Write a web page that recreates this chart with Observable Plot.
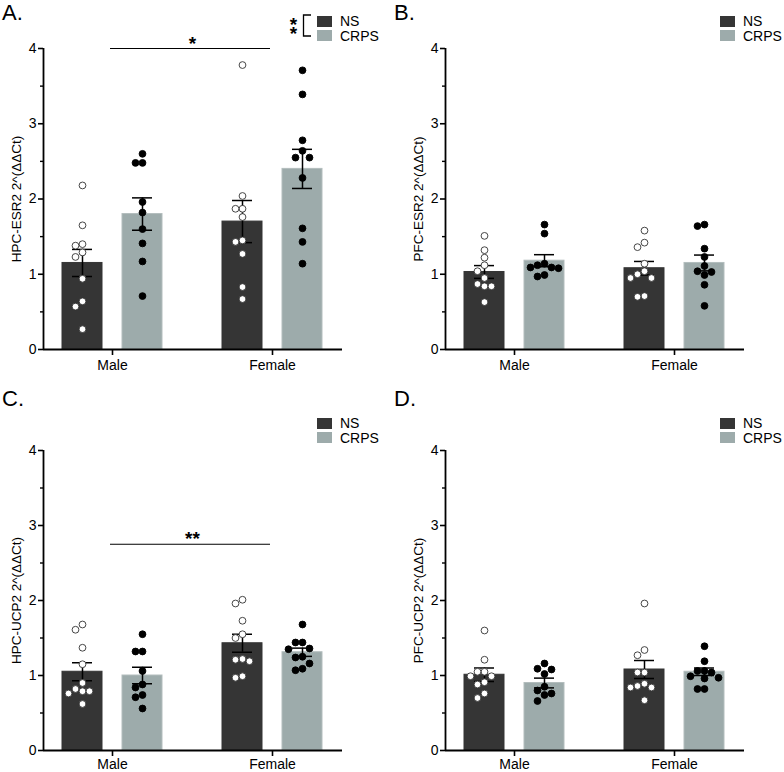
<!DOCTYPE html>
<html><head><meta charset="utf-8">
<script src="https://cdn.jsdelivr.net/npm/d3@7"></script>
<script src="https://cdn.jsdelivr.net/npm/@observablehq/plot@0.6"></script>
<style>
body{margin:0;background:#fff;font-family:"Liberation Sans",Arial,sans-serif;}
#wrap{position:relative;width:784px;height:772px;overflow:hidden;background:#fff}
.panel{position:absolute;width:392px;height:386px}
.panel svg{position:absolute;left:0;top:0}
.plabel{position:absolute;left:2px;top:2px;font-size:22px;line-height:22px;color:#000}
.legend{position:absolute;font-size:14px;line-height:14px;color:#000}
.legend .row{display:flex;align-items:center;height:14.5px;margin-bottom:0}
.legend .sw{width:15px;height:11px;margin-right:8px}
.legstars{position:absolute;overflow:visible}
</style></head><body><div id="wrap"></div><script>
// ---------- data ----------
const sexes = ["Male", "Female"];
const conditions = ["NS", "CRPS"];
const yTicks = [0, 1, 2, 3, 4];
const yMinorTicks = [0.5, 1.5, 2.5, 3.5];
const panelLetters = ["A.", "B.", "C.", "D."];
const yLabels = ["HPC-ESR2 2^(ΔΔCt)", "PFC-ESR2 2^(ΔΔCt)", "HPC-UCP2 2^(ΔΔCt)", "PFC-UCP2 2^(ΔΔCt)"];

// A: HPC-ESR2
const hpcEsr2MaleNS     = [2.18, 1.65, 1.40, 1.38, 1.29, 1.23, 0.94, 0.64, 0.57, 0.27];
const hpcEsr2MaleCRPS   = [2.60, 2.48, 2.48, 1.96, 1.82, 1.60, 1.41, 1.17, 0.71];
const hpcEsr2FemaleNS   = [3.78, 2.04, 1.87, 1.87, 1.76, 1.45, 1.43, 1.27, 0.83, 0.67];
const hpcEsr2FemaleCRPS = [3.71, 3.39, 2.78, 2.64, 2.55, 2.55, 2.28, 1.61, 1.43, 1.14];
const hpcEsr2Means = [1.15, 1.80, 1.70, 2.40];   // Male NS, Male CRPS, Female NS, Female CRPS
const hpcEsr2Sems  = [0.18, 0.215, 0.28, 0.26];

// B: PFC-ESR2
const pfcEsr2MaleNS     = [1.51, 1.32, 1.22, 1.12, 1.04, 0.95, 0.87, 0.84, 0.84, 0.63];
const pfcEsr2MaleCRPS   = [1.66, 1.54, 1.14, 1.12, 1.09, 1.09, 1.08, 0.99, 0.97];
const pfcEsr2FemaleNS   = [1.58, 1.42, 1.36, 1.14, 1.04, 1.00, 0.95, 0.95, 0.71, 0.70];
const pfcEsr2FemaleCRPS = [1.66, 1.64, 1.34, 1.23, 1.11, 1.04, 1.03, 0.99, 0.86, 0.58];
const pfcEsr2Means = [1.03, 1.18, 1.08, 1.15];
const pfcEsr2Sems  = [0.085, 0.08, 0.09, 0.105];

// C: HPC-UCP2
const hpcUcp2MaleNS     = [1.68, 1.61, 1.37, 1.15, 0.90, 0.82, 0.79, 0.79, 0.76, 0.62];
const hpcUcp2MaleCRPS   = [1.55, 1.32, 1.32, 1.06, 0.88, 0.84, 0.74, 0.71, 0.56];
const hpcUcp2FemaleNS   = [2.01, 1.96, 1.73, 1.55, 1.50, 1.22, 1.21, 1.19, 0.99, 0.97];
const hpcUcp2FemaleCRPS = [1.68, 1.44, 1.44, 1.36, 1.35, 1.25, 1.24, 1.16, 1.09, 1.07];
const hpcUcp2Means = [1.05, 1.00, 1.43, 1.31];
const hpcUcp2Sems  = [0.12, 0.11, 0.12, 0.055];

// D: PFC-UCP2
const pfcUcp2MaleNS     = [1.60, 1.21, 1.05, 1.05, 0.99, 0.99, 0.91, 0.88, 0.76, 0.70];
const pfcUcp2MaleCRPS   = [1.16, 1.09, 1.08, 1.02, 0.85, 0.80, 0.76, 0.74, 0.66];
const pfcUcp2FemaleNS   = [1.96, 1.34, 1.27, 1.04, 1.04, 0.89, 0.86, 0.84, 0.84, 0.67];
const pfcUcp2FemaleCRPS = [1.39, 1.19, 1.06, 1.06, 1.04, 0.99, 0.97, 0.96, 0.82, 0.82];
const pfcUcp2Means = [1.01, 0.90, 1.08, 1.05];
const pfcUcp2Sems  = [0.09, 0.065, 0.12, 0.05];

// significance (Male vs Female) per panel: [y value, label] or null
const sexSig = [[4.0, "*"], null, [2.75, "**"], null];
const legendSig = ["**", null, null, null];

// ---------- styling / layout ----------
const barColors = {NS: "#353535", CRPS: "#9dabab"};
const groupCenter = {Male: 1, Female: 3};
const condOffset = {NS: -0.375, CRPS: 0.375};
const barHalf = 0.25, capHalf = 0.125, dotStep = 0.0875;
const xDomain = [0.1375, 3.875];
const FONT = '"Liberation Sans", Arial, sans-serif';

const panels = [
  {pts: [hpcEsr2MaleNS, hpcEsr2MaleCRPS, hpcEsr2FemaleNS, hpcEsr2FemaleCRPS], means: hpcEsr2Means, sems: hpcEsr2Sems},
  {pts: [pfcEsr2MaleNS, pfcEsr2MaleCRPS, pfcEsr2FemaleNS, pfcEsr2FemaleCRPS], means: pfcEsr2Means, sems: pfcEsr2Sems},
  {pts: [hpcUcp2MaleNS, hpcUcp2MaleCRPS, hpcUcp2FemaleNS, hpcUcp2FemaleCRPS], means: hpcUcp2Means, sems: hpcUcp2Sems},
  {pts: [pfcUcp2MaleNS, pfcUcp2MaleCRPS, pfcUcp2FemaleNS, pfcUcp2FemaleCRPS], means: pfcUcp2Means, sems: pfcUcp2Sems}
];

function jitterCols(values, pxPerUnit) {
  const order = values.map((v, i) => i).sort((a, b) => values[b] - values[a]);
  const placed = [], cols = new Array(values.length);
  const cand = [0, -1, 1, -2, 2, -3, 3];
  for (const i of order) {
    for (const c of cand) {
      if (placed.every(p => p.c !== c || Math.abs(p.v - values[i]) * pxPerUnit >= 6.8)) {
        cols[i] = c; placed.push({c, v: values[i]}); break;
      }
    }
  }
  return cols;
}

const wrap = document.getElementById("wrap");

panels.forEach((p, k) => {
  const col = k % 2, row = Math.floor(k / 2);
  const marginLeft = col === 0 ? 43 : 53;
  const marginRight = 392 - marginLeft - 299;
  const marginTop = row === 0 ? 48 : 64;
  const marginBottom = row === 0 ? 37 : 22;
  const frameH = 386 - marginTop - marginBottom;
  const pxPerUnit = frameH / 4;

  const bars = [];
  const dots = [];
  let gi = 0;
  for (const s of sexes) for (const c of conditions) {
    const cx = groupCenter[s] + condOffset[c];
    bars.push({sex: s, condition: c, cx, mean: p.means[gi], sem: p.sems[gi]});
    const vals = p.pts[gi];
    const cols = jitterCols(vals, pxPerUnit);
    vals.forEach((v, i) => dots.push({sex: s, condition: c, value: v, x: cx + cols[i] * dotStep}));
    gi++;
  }

  const marks = [
    Plot.rectY(bars, {x1: d => d.cx - barHalf, x2: d => d.cx + barHalf, y1: 0, y2: "mean",
      fill: d => barColors[d.condition], stroke: d => d.condition === "CRPS" ? "#b3bdbd" : barColors.NS, strokeWidth: 1}),
    Plot.ruleX(bars, {x: "cx", y1: d => d.mean - d.sem, y2: d => d.mean + d.sem, stroke: "#000", strokeWidth: 1.5}),
    Plot.ruleY(bars, {y: d => d.mean + d.sem, x1: d => d.cx - capHalf, x2: d => d.cx + capHalf, stroke: "#000", strokeWidth: 1.5}),
    Plot.ruleY(bars, {y: d => d.mean - d.sem, x1: d => d.cx - capHalf, x2: d => d.cx + capHalf, stroke: "#000", strokeWidth: 1.5}),
    Plot.dot(dots, {x: "x", y: "value", r: 3.4,
      fill: d => d.condition === "NS" ? "#fff" : "#000",
      stroke: d => d.condition === "NS" ? "#333" : "#000", strokeWidth: 0.9}),
    Plot.axisY({ticks: yTicks, tickSize: 5, tickPadding: 2, fontSize: 14, strokeWidth: 1.6, label: null,
      tickFormat: d => String(d)}),
    Plot.axisY({ticks: yMinorTicks, tickSize: 3, tickFormat: () => "", strokeWidth: 1.4, label: null}),
    Plot.axisX({ticks: sexes.map(s => groupCenter[s]), tickFormat: v => sexes.find(s => groupCenter[s] === v),
      tickSize: 6, tickPadding: row === 0 ? 5 : 3, fontSize: 14, strokeWidth: 1.6, label: null}),
    Plot.ruleX([xDomain[0]], {y1: 0, y2: 4, stroke: "#000", strokeWidth: 1.8}),
    Plot.ruleY([0], {x1: xDomain[0], x2: xDomain[1], stroke: "#000", strokeWidth: 1.8}),
    Plot.text([yLabels[k]], {frameAnchor: "left", rotate: -90, dx: -27, fontSize: 13.5, fill: "#000",
      textAnchor: "middle", lineAnchor: "middle"})
  ];
  const sig = sexSig[k];
  if (sig) {
    marks.push(Plot.ruleY([sig], {y: d => d[0], x1: groupCenter.Male - 0.025, x2: groupCenter.Female - 0.025, stroke: "#000", strokeWidth: 1.2}));
    marks.push(Plot.text([sig], {x: (groupCenter.Male + groupCenter.Female) / 2, y: d => d[0], text: d => d[1],
      fontSize: 19, fontWeight: "bold", fill: "#000", lineAnchor: "middle", dy: -5}));
  }

  const chart = Plot.plot({
    width: 392, height: 386, marginLeft, marginRight, marginTop, marginBottom,
    x: {domain: xDomain, axis: null},
    y: {domain: [0, 4], axis: null},
    style: {fontFamily: FONT, fontSize: "14px", color: "#000", background: "transparent", overflow: "visible"},
    marks
  });

  const div = document.createElement("div");
  div.className = "panel";
  div.style.left = (col * 392) + "px";
  div.style.top = (row * 386) + "px";
  div.appendChild(chart);

  const lab = document.createElement("div");
  lab.className = "plabel";
  lab.textContent = panelLetters[k];
  div.appendChild(lab);

  const leg = document.createElement("div");
  leg.className = "legend";
  leg.style.left = (col === 0 ? 317 : 328) + "px";
  leg.style.top = (row === 0 ? 14 : 30) + "px";
  conditions.forEach(c => {
    const r = document.createElement("div");
    r.className = "row";
    r.innerHTML = `<span class="sw" style="background:${barColors[c]}"></span><span>${c}</span>`;
    leg.appendChild(r);
  });
  div.appendChild(leg);

  if (legendSig[k]) {
    const ns = "http://www.w3.org/2000/svg";
    const svg = document.createElementNS(ns, "svg");
    svg.setAttribute("width", 30); svg.setAttribute("height", 44);
    svg.setAttribute("class", "legstars");
    svg.style.left = "284px"; svg.style.top = "12px";
    const path = document.createElementNS(ns, "path");
    path.setAttribute("d", "M27,3 H19.5 V24 H27");
    path.setAttribute("fill", "none"); path.setAttribute("stroke", "#000"); path.setAttribute("stroke-width", "1.3");
    svg.appendChild(path);
    legendSig[k].split("").forEach((ch, i) => {
      const t = document.createElementNS(ns, "text");
      t.setAttribute("x", 9.5); t.setAttribute("y", 19 + i * 9);
      t.setAttribute("text-anchor", "middle");
      t.setAttribute("font-family", FONT); t.setAttribute("font-size", 19); t.setAttribute("font-weight", "bold");
      t.textContent = ch;
      svg.appendChild(t);
    });
    div.appendChild(svg);
  }
  wrap.appendChild(div);
});
</script></body></html>
